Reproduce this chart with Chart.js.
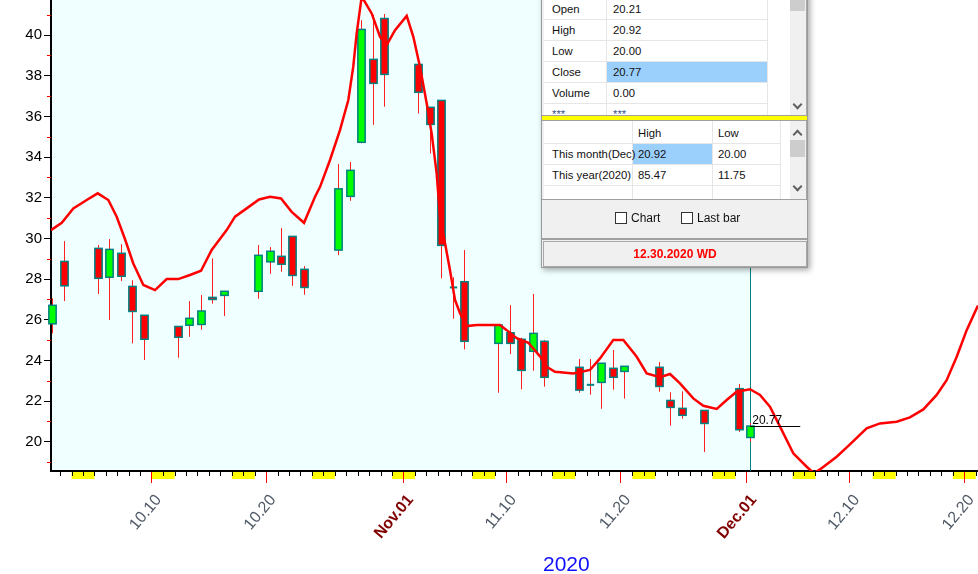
<!DOCTYPE html>
<html>
<head>
<meta charset="utf-8">
<script src="https://cdn.jsdelivr.net/npm/chart.js@4.4.0/dist/chart.umd.min.js"></script>
<style>
  body { margin: 0; background: #fff; }
  #wrap { position: relative; width: 978px; height: 574px; overflow: hidden;
          font-family: "Liberation Sans", Arial, sans-serif; }
  #chart { position: absolute; left: 0; top: 0; }
  .a { position: absolute; }
  .t { position: absolute; font-size: 11.3px; line-height: 14px; color: #111; white-space: nowrap; }
  .hl { position: absolute; height: 1px; background: #e6e6e6; }
  .vl { position: absolute; width: 1px; background: #e6e6e6; }
  .chev { position: absolute; width: 5px; height: 5px; border-right: 2px solid #606060;
          border-bottom: 2px solid #606060; transform: rotate(45deg); }
  .chev.up { transform: rotate(-135deg); }
  .box { position: absolute; width: 12px; height: 12px; border: 1px solid #333; background: #fff; box-sizing: border-box; }
</style>
</head>
<body>
<div id="wrap">
  <canvas id="chart" width="978" height="574"></canvas>

  <!-- data window -->
  <div class="a" style="left:541px;top:-10px;width:265px;height:276px;background:#f0f0f0;border:1px solid #9a9a9a;box-shadow:2px 2px 6px rgba(0,0,0,0.35);"></div>
  <div class="a" style="left:544px;top:-10px;width:246px;height:125px;background:#fff;"></div>
  <div class="a" style="left:607px;top:62px;width:160px;height:20px;background:#9bcffc;"></div>
  <div class="hl" style="left:544px;top:19px;width:223px;"></div>
  <div class="hl" style="left:544px;top:40px;width:223px;"></div>
  <div class="hl" style="left:544px;top:61px;width:223px;"></div>
  <div class="hl" style="left:544px;top:82px;width:223px;"></div>
  <div class="hl" style="left:544px;top:103px;width:223px;"></div>
  <div class="vl" style="left:606px;top:-10px;height:125px;"></div>
  <div class="vl" style="left:767px;top:-10px;height:125px;"></div>
  <div class="t" style="left:552px;top:2px;">Open</div>
  <div class="t" style="left:613px;top:2px;">20.21</div>
  <div class="t" style="left:552px;top:23px;">High</div>
  <div class="t" style="left:613px;top:23px;">20.92</div>
  <div class="t" style="left:552px;top:44px;">Low</div>
  <div class="t" style="left:613px;top:44px;">20.00</div>
  <div class="t" style="left:552px;top:65px;">Close</div>
  <div class="t" style="left:613px;top:65px;">20.77</div>
  <div class="t" style="left:552px;top:86px;">Volume</div>
  <div class="t" style="left:613px;top:86px;">0.00</div>
  <div class="a" style="left:544px;top:104px;width:223px;height:11px;overflow:hidden;">
    <div class="t" style="left:8px;top:3px;color:#3a5590;">***</div>
    <div class="t" style="left:69px;top:3px;color:#3a5590;">***</div>
  </div>
  <div class="a" style="left:790px;top:-10px;width:16px;height:125px;background:#f0f0f0;"></div>
  <div class="a" style="left:790px;top:-10px;width:15px;height:21px;background:#cdcdcd;"></div>
  <div class="chev" style="left:794px;top:101px;"></div>
  <div class="a" style="left:806px;top:-10px;width:1px;height:125px;background:#a8a8a8;"></div>

  <div class="a" style="left:542px;top:115px;width:265px;height:1px;background:#a0a0a0;"></div>
  <div class="a" style="left:542px;top:116px;width:265px;height:4px;background:#ffff00;"></div>
  <div class="a" style="left:542px;top:120px;width:265px;height:1px;background:#a0a0a0;"></div>

  <div class="a" style="left:544px;top:121px;width:246px;height:78px;background:#fff;"></div>
  <div class="a" style="left:633px;top:144px;width:79px;height:20px;background:#9bcffc;"></div>
  <div class="hl" style="left:544px;top:143px;width:236px;"></div>
  <div class="hl" style="left:544px;top:164px;width:236px;"></div>
  <div class="hl" style="left:544px;top:185px;width:236px;"></div>
  <div class="vl" style="left:632px;top:121px;height:78px;"></div>
  <div class="vl" style="left:712px;top:121px;height:78px;"></div>
  <div class="vl" style="left:780px;top:121px;height:78px;"></div>
  <div class="t" style="left:638px;top:126px;">High</div>
  <div class="t" style="left:718px;top:126px;">Low</div>
  <div class="t" style="left:552px;top:147px;">This month(Dec)</div>
  <div class="t" style="left:638px;top:147px;">20.92</div>
  <div class="t" style="left:718px;top:147px;">20.00</div>
  <div class="t" style="left:552px;top:168px;">This year(2020)</div>
  <div class="t" style="left:638px;top:168px;">85.47</div>
  <div class="t" style="left:718px;top:168px;">11.75</div>
  <div class="a" style="left:790px;top:121px;width:16px;height:78px;background:#f0f0f0;"></div>
  <div class="a" style="left:790px;top:140px;width:15px;height:17px;background:#cdcdcd;"></div>
  <div class="chev up" style="left:794px;top:131px;"></div>
  <div class="chev" style="left:794px;top:183px;"></div>
  <div class="a" style="left:806px;top:121px;width:1px;height:78px;background:#a8a8a8;"></div>
  <div class="a" style="left:542px;top:199px;width:265px;height:1px;background:#a0a0a0;"></div>

  <div class="box" style="left:615px;top:212px;"></div>
  <div class="t" style="left:631px;top:211px;font-size:12px;">Chart</div>
  <div class="box" style="left:681px;top:212px;"></div>
  <div class="t" style="left:697px;top:211px;font-size:12px;">Last bar</div>

  <div class="a" style="left:542px;top:238px;width:265px;height:2px;background:#a0a0a0;"></div>
  <div class="a" style="left:543px;top:241px;width:262px;height:24px;border:1px solid #a8a8a8;background:#f0f0f0;"></div>
  <div class="t" style="left:543px;top:247px;width:264px;text-align:center;color:#ff0000;font-weight:bold;font-size:12px;">12.30.2020 WD</div>

  <div class="a" style="left:543px;top:552px;font-size:21px;line-height:24px;color:#1010ff;">2020</div>
</div>

<script>
// day numbers: 1 = Oct 01 2020, 32 = Nov 01, 62 = Dec 01
const candleDays = [1, 2, 5, 6, 7, 8, 9, 12, 13, 14, 15, 16, 19, 20, 21, 22, 23, 26, 27, 28, 29, 30,
  33, 34, 35, 36, 37, 40, 41, 42, 43, 44, 47, 48, 49, 50, 51, 54, 55, 56, 58, 61, 62];
const opens  = [25.80, 28.87, 29.51, 28.09, 29.27, 27.64, 26.22, 25.67, 25.73, 25.77, 27.10, 27.20, 27.40, 28.85, 29.12, 30.10, 28.48, 29.43, 32.07, 34.73, 38.81, 40.82,
  38.56, 36.45, 36.79, 27.59, 27.87, 24.84, 25.36, 25.04, 24.45, 24.94, 23.66, 22.80, 22.92, 23.61, 23.46, 23.66, 22.03, 21.64, 21.54, 22.61, 20.21];
const highs  = [27.05, 29.87, 29.68, 29.97, 29.72, 27.95, 26.22, 25.67, 26.92, 27.22, 29.02, 27.40, 29.68, 29.58, 30.51, 30.10, 28.64, 33.66, 33.76, 40.74, 41.00, 41.04,
  38.56, 36.45, 36.79, 28.09, 29.43, 25.74, 26.72, 25.12, 27.27, 25.00, 24.07, 24.07, 23.86, 24.51, 23.71, 23.92, 22.44, 22.48, 21.54, 22.84, 20.92];
const lows   = [25.33, 26.92, 27.27, 25.99, 27.90, 24.84, 24.02, 24.13, 25.16, 25.51, 26.79, 26.18, 27.03, 28.26, 28.36, 27.67, 27.23, 29.18, 31.85, 34.68, 35.59, 36.48,
  36.15, 34.18, 28.04, 26.05, 24.54, 22.41, 24.31, 22.58, 23.49, 22.71, 22.41, 22.31, 21.62, 22.56, 22.12, 22.46, 20.79, 21.13, 19.49, 20.48, 20.00];
const closes = [26.71, 27.67, 28.04, 29.46, 28.14, 26.41, 25.04, 25.14, 26.07, 26.43, 27.00, 27.40, 29.17, 29.37, 28.73, 28.18, 27.59, 32.44, 33.35, 40.28, 37.63, 38.07,
  37.19, 35.61, 29.66, 27.59, 24.94, 25.74, 24.84, 23.51, 25.33, 23.17, 22.54, 22.80, 23.86, 23.17, 23.71, 22.72, 21.69, 21.30, 20.90, 20.59, 20.77];

// red projection line
const lineDays = [1.2, 2.14, 3.15, 4.32, 5.28, 6.21, 6.94, 7.67, 8.39, 9.27, 10.29, 11.31, 12.32, 13.35, 14.31, 15.24,
  16.55, 17.28, 18.30, 19.38, 20.34, 21.30, 22.23, 23.31, 24.27, 24.71, 25.58, 26.45, 27.18, 27.61, 27.91, 28.35,
  29.22, 29.95, 30.53, 31.26, 32.28, 32.86, 33.44, 34.03, 34.46, 34.90, 35.19, 35.63, 36.06, 36.50, 36.94, 37.52,
  38.40, 40.43, 41.02, 41.89, 42.91, 43.93, 44.51, 45.24, 46.84, 48.30, 49.17, 50.33, 51.21, 52.38, 53.25, 54.41,
  55.29, 56.16, 57.32, 58.20, 59.37, 60.24, 61.11, 62.28, 63.15, 64.02, 64.90, 66.06, 67.23, 67.87, 68.39, 69.85,
  71.01, 72.47, 73.63, 75.09, 76.25, 77.42, 78.59, 79.46, 80.34, 81.21, 82.08, 82.2];
const lineValues = [30.41, 30.77, 31.48, 31.89, 32.22, 31.89, 31.07, 29.96, 28.77, 27.71, 27.46, 28.00, 28.00, 28.20, 28.41, 29.43,
  30.41, 31.07, 31.48, 31.92, 32.05, 31.97, 31.31, 30.77, 32.05, 32.54, 33.86, 35.33, 36.81, 38.45, 40.09, 41.9,
  41.07, 39.92, 39.51, 40.25, 40.95, 39.92, 38.45, 36.64, 35.17, 33.20, 31.07, 29.76, 28.45, 26.97, 26.32, 25.69,
  25.74, 25.74, 25.49, 25.09, 24.87, 24.20, 23.69, 23.44, 23.36, 23.53, 24.10, 25.00, 25.00, 24.18, 23.36, 23.17,
  23.33, 22.87, 22.13, 21.77, 21.61, 22.05, 22.46, 22.58, 22.30, 21.72, 20.74, 19.43, 18.77, 18.45, 18.64, 19.26,
  19.87, 20.66, 20.90, 20.98, 21.20, 21.59, 22.30, 23.03, 24.18, 25.49, 26.56, 26.70];

const xTickDays = [10, 20, 32, 41, 51, 62, 71, 81];
const xTickLabels = ['10.10', '10.20', 'Nov.01', '11.10', '11.20', 'Dec.01', '12.10', '12.20'];
const monthStarts = ['Nov.01', 'Dec.01'];
const yTickValues = [20, 22, 24, 26, 28, 30, 32, 34, 36, 38, 40];

const X_MIN = 1.2, X_MAX = 82.2, Y_MIN = 18.56, Y_MAX = 41.73;
const BAR_SHIFT = 0.3;      // bars sit a little right of the day tick
const BAR_WIDTH = 0.64;     // in days
const FONT = '"Liberation Sans", Arial, sans-serif';

function isSaturday(d) { return d >= 3 && (d - 3) % 7 === 0; }  // Oct 3 2020 was a Saturday
function isMonthTick(c) {
  return !!(c && c.tick) && monthStarts.includes(xTickLabels[xTickDays.indexOf(c.tick.value)]);
}

const decor = {
  id: 'decor',
  beforeDraw(chart) {
    const { ctx, chartArea: a, scales: { x } } = chart;
    ctx.save();
    const lastX = x.getPixelForValue(candleDays[candleDays.length - 1] + BAR_SHIFT);
    ctx.fillStyle = '#f0ffff';
    ctx.fillRect(a.left, a.top, lastX - a.left, a.bottom - a.top);
    ctx.fillStyle = '#ffff00';
    for (let d = 2; d <= 82; d++) {
      if (!isSaturday(d)) continue;
      const x0 = x.getPixelForValue(d), x1 = Math.min(x.getPixelForValue(d + 2), a.right);
      ctx.fillRect(x0, a.bottom + 1, x1 - x0, 7);
    }
    ctx.restore();
  },
  beforeDatasetsDraw(chart) {
    const { ctx, chartArea: a, scales: { x, y } } = chart;
    const pxDay = x.getPixelForValue(2) - x.getPixelForValue(1);
    const w = BAR_WIDTH * pxDay;
    ctx.save();
    const lastX = Math.round(x.getPixelForValue(candleDays[candleDays.length - 1] + BAR_SHIFT)) + 0.5;
    ctx.strokeStyle = '#008080';
    ctx.lineWidth = 1;
    ctx.beginPath(); ctx.moveTo(lastX, a.top); ctx.lineTo(lastX, a.bottom); ctx.stroke();

    candleDays.forEach((d, i) => {
      const cx = Math.round(x.getPixelForValue(d + BAR_SHIFT)) + 0.5;
      ctx.strokeStyle = '#ff2020';
      ctx.lineWidth = 1;
      ctx.beginPath();
      ctx.moveTo(cx, y.getPixelForValue(highs[i]));
      ctx.lineTo(cx, y.getPixelForValue(lows[i]));
      ctx.stroke();
      const yo = y.getPixelForValue(opens[i]), yc = y.getPixelForValue(closes[i]);
      if (Math.abs(yo - yc) < 1) {
        ctx.strokeStyle = '#008080';
        ctx.lineWidth = 2;
        ctx.beginPath(); ctx.moveTo(cx - w / 2, yo); ctx.lineTo(cx + w / 2, yo); ctx.stroke();
        return;
      }
      const top = Math.min(yo, yc), h = Math.abs(yo - yc);
      ctx.fillStyle = closes[i] >= opens[i] ? '#00ff00' : '#ff0000';
      ctx.fillRect(cx - w / 2, top, w, h);
      ctx.strokeStyle = '#008080';
      ctx.lineWidth = 1.5;
      ctx.strokeRect(cx - w / 2, top, w, h);
    });
    ctx.restore();
  },
  afterDraw(chart) {
    const { ctx, chartArea: a, scales: { x, y } } = chart;
    ctx.save();
    // daily ticks
    ctx.strokeStyle = '#000';
    ctx.lineWidth = 1;
    ctx.beginPath();
    for (let d = 2; d <= 82; d++) {
      if (xTickDays.includes(d)) continue;
      const px = Math.round(x.getPixelForValue(d)) + 0.5;
      ctx.moveTo(px, a.bottom); ctx.lineTo(px, a.bottom + 5);
    }
    ctx.stroke();
    // minor y ticks
    ctx.strokeStyle = '#ff0000';
    ctx.beginPath();
    for (let v = 19; v <= 41; v += 2) {
      const py = Math.round(y.getPixelForValue(v)) + 0.5;
      ctx.moveTo(a.left - 4, py); ctx.lineTo(a.left, py);
    }
    ctx.stroke();
    // last close marker
    const i = closes.length - 1;
    const cx = x.getPixelForValue(candleDays[i] + BAR_SHIFT);
    const cy = Math.round(y.getPixelForValue(closes[i])) + 0.5;
    ctx.strokeStyle = '#000';
    ctx.beginPath(); ctx.moveTo(cx, cy); ctx.lineTo(cx + 50, cy); ctx.stroke();
    ctx.fillStyle = '#000';
    ctx.font = '12px ' + FONT;
    ctx.textBaseline = 'bottom';
    ctx.fillText(closes[i].toFixed(2), cx + 2, cy);
    ctx.restore();
  }
};

new Chart(document.getElementById('chart'), {
  type: 'line',
  data: {
    datasets: [{
      data: lineDays.map((d, i) => ({ x: d, y: lineValues[i] })),
      borderColor: '#ff0000',
      borderWidth: 2.5,
      pointRadius: 0,
      tension: 0,
      fill: false
    }]
  },
  options: {
    responsive: false,
    animation: false,
    layout: { padding: 0 },
    plugins: { legend: { display: false }, tooltip: { enabled: false } },
    scales: {
      x: {
        type: 'linear',
        min: X_MIN,
        max: X_MAX,
        border: { color: '#000', width: 2 },
        grid: { drawOnChartArea: false, color: '#ff0000', tickLength: 12 },
        afterBuildTicks: (axis) => { axis.ticks = xTickDays.map(v => ({ value: v })); },
        afterFit: (axis) => { axis.height = 103; axis.paddingLeft = 0; axis.paddingRight = 0; },
        ticks: {
          autoSkip: false,
          minRotation: 50,
          maxRotation: 50,
          padding: 8,
          labelOffset: 7,
          callback: (v) => xTickLabels[xTickDays.indexOf(v)],
          color: (c) => isMonthTick(c) ? '#800000' : '#505a66',
          font: (c) => ({ family: FONT, size: 16, weight: isMonthTick(c) ? 'bold' : 'normal' })
        }
      },
      y: {
        type: 'linear',
        min: Y_MIN,
        max: Y_MAX,
        border: { color: '#000', width: 2 },
        grid: { drawOnChartArea: false, color: '#000', tickLength: 7 },
        afterBuildTicks: (axis) => { axis.ticks = yTickValues.map(v => ({ value: v })); },
        afterFit: (axis) => { axis.width = 51; axis.paddingTop = 0; axis.paddingBottom = 0; },
        ticks: {
          padding: 2,
          color: '#000',
          font: { family: FONT, size: 15 },
          callback: (v) => String(v)
        }
      }
    }
  },
  plugins: [decor]
});
</script>
</body>
</html>
